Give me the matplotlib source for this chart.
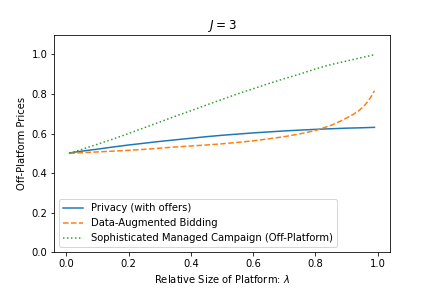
import matplotlib
matplotlib.use("Agg")
import matplotlib.pyplot as plt

lam_privacy = [0.01, 0.05, 0.10, 0.15, 0.20, 0.25, 0.30, 0.35, 0.40, 0.45, 0.50,
               0.55, 0.60, 0.65, 0.70, 0.75, 0.80, 0.85, 0.90, 0.95, 0.99]
privacy = [0.502, 0.511, 0.521, 0.532, 0.542, 0.551, 0.560, 0.568, 0.576, 0.584, 0.591,
           0.597, 0.603, 0.608, 0.613, 0.617, 0.621, 0.624, 0.627, 0.629, 0.631]

lam_dab = [0.01, 0.05, 0.10, 0.15, 0.20, 0.25, 0.30, 0.35, 0.40, 0.45, 0.50,
           0.55, 0.60, 0.65, 0.70, 0.75, 0.80, 0.85, 0.88, 0.90, 0.92, 0.94,
           0.96, 0.97, 0.98, 0.99]
dab = [0.500, 0.503, 0.507, 0.511, 0.515, 0.520, 0.526, 0.532, 0.537, 0.542, 0.548,
       0.555, 0.563, 0.573, 0.584, 0.598, 0.615, 0.641, 0.662, 0.678, 0.695, 0.715,
       0.745, 0.765, 0.788, 0.816]

lam_smc = [0.01, 0.05, 0.10, 0.15, 0.20, 0.25, 0.30, 0.35, 0.40, 0.45, 0.50,
           0.55, 0.60, 0.65, 0.70, 0.75, 0.80, 0.85, 0.90, 0.95, 0.99]
smc = [0.500, 0.520, 0.546, 0.572, 0.600, 0.629, 0.658, 0.687, 0.715, 0.744, 0.772,
       0.800, 0.826, 0.852, 0.877, 0.900, 0.926, 0.948, 0.966, 0.984, 0.998]

labels = ["Privacy (with offers)", "Data-Augmented Bidding",
          "Sophisticated Managed Campaign (Off-Platform)"]

fig = plt.figure(figsize=(6, 4), dpi=72)
ax = fig.add_axes([54.3/432, 1-252.3/288, (389.7-54.3)/432, (252.3-35.3)/288])
ax.plot(lam_privacy, privacy, "-", color="#1f77b4", label=labels[0])
ax.plot(lam_dab, dab, "--", color="#ff7f0e", label=labels[1])
ax.plot(lam_smc, smc, ":", color="#2ca02c", label=labels[2])
ax.set_ylim(0, 1.096)
ax.set_title("$J=3$")
ax.set_xlabel("Relative Size of Platform: $\\lambda$")
ax.set_ylabel("Off-Platform Prices")
ax.legend(loc="lower left")
fig.savefig("out.png", dpi=72)
